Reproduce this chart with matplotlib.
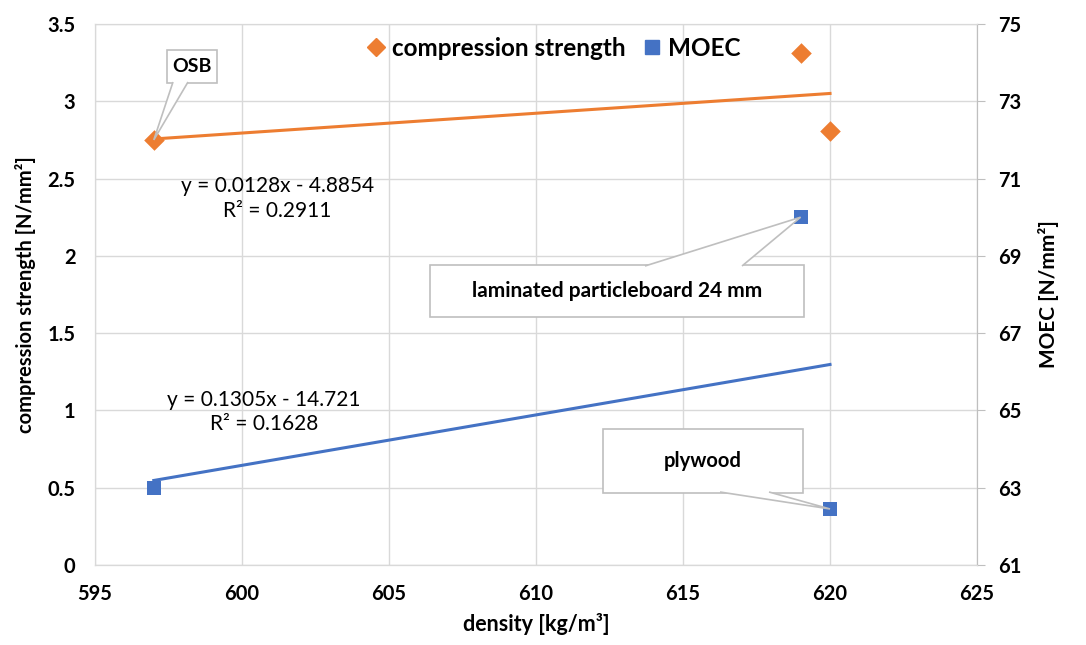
import numpy as np
import matplotlib
matplotlib.use('Agg')
import matplotlib.pyplot as plt
from matplotlib.patches import Rectangle, Polygon
from matplotlib.lines import Line2D

plt.rcParams['font.family'] = ['Lato', 'DejaVu Sans']

# data
density = [597, 619, 620]
compression = [2.75, 3.31, 2.81]
moec = [63.0, 70.0, 62.45]

# trend lines as printed on the chart
cs_slope, cs_icpt, cs_r2 = 0.0128, -4.8854, 0.2911
mo_slope, mo_icpt, mo_r2 = 0.1305, -14.721, 0.1628

x_ticks = [595, 600, 605, 610, 615, 620, 625]
cs_ticks = [0, 0.5, 1, 1.5, 2, 2.5, 3, 3.5]
mo_ticks = [61, 63, 65, 67, 69, 71, 73, 75]

ORANGE = '#ED7D31'
BLUE = '#4472C4'
GRID = '#d9d9d9'
EDGE = '#bfbfbf'

fig = plt.figure(figsize=(10.86, 6.45), dpi=100)
W, H = 1086, 645
L, R, T, B = 95, 977, 24, 565
ax = fig.add_axes([L / W, 1 - B / H, (R - L) / W, (B - T) / H])
ax2 = ax.twinx()

ax.set_xlim(595, 625)
ax.set_ylim(0, 3.5)
ax2.set_ylim(61, 75)
ax.set_xticks(x_ticks)
ax.set_yticks(cs_ticks)
ax.set_yticklabels(['0', '0.5', '1', '1.5', '2', '2.5', '3', '3.5'])
ax2.set_yticks(mo_ticks)

ax.grid(True, color=GRID, lw=1)
ax.set_axisbelow(True)
for a in (ax, ax2):
    for s in a.spines.values():
        s.set_color(GRID)
ax2.spines['right'].set_color(EDGE)
ax.spines['bottom'].set_color(EDGE)

ax.tick_params(axis='x', length=0, pad=14, labelsize=14.5)
ax.tick_params(axis='y', length=0, pad=14, labelsize=14.5)
ax2.tick_params(axis='y', length=6, color=EDGE, pad=9, labelsize=14.5)
for lab in ax.get_xticklabels() + ax.get_yticklabels() + ax2.get_yticklabels():
    lab.set_fontweight('bold')

ax.set_xlabel('density [kg/m³]', fontsize=15.5, fontweight='bold', labelpad=6)
ax.set_ylabel('compression strength [N/mm²]', fontsize=14.5, fontweight='bold', labelpad=8)
ax2.set_ylabel('MOEC [N/mm²]', fontsize=15, fontweight='bold', labelpad=12)

# trend lines over the data range
xd = np.array([min(density), max(density)])
ax.plot(xd, cs_slope * xd + cs_icpt, color=ORANGE, lw=2.2, zorder=3)
ax2.plot(xd, mo_slope * xd + mo_icpt, color=BLUE, lw=2.2, zorder=3)

ax.scatter(density, compression, marker='D', s=110, color=ORANGE, zorder=5, linewidths=0)
ax2.scatter(density, moec, marker='s', s=100, color=BLUE, zorder=5, linewidths=0)

ax.text(601.2, 2.37, f'y = {cs_slope}x - {abs(cs_icpt)}\nR² = {cs_r2}',
        ha='center', va='center', ma='center', fontsize=15, linespacing=1.3)
ax.text(600.75, 0.99, f'y = {mo_slope}x - {abs(mo_icpt)}\nR² = {mo_r2}',
        ha='center', va='center', ma='center', fontsize=15, linespacing=1.3)


def callout(a, x, y, text, box, base, size):
    x0, y0, x1, y1 = box
    a.add_patch(Rectangle((x0, y0), x1 - x0, y1 - y0, transform=a.transAxes,
                          facecolor='white', edgecolor=EDGE, lw=1.2, zorder=6))
    tip = a.transAxes.inverted().transform(a.transData.transform((x, y)))
    bx0, bx1, by = base
    a.add_patch(Polygon([(bx0, by), tip, (bx1, by)], closed=False, transform=a.transAxes,
                        facecolor='white', edgecolor=EDGE, lw=1.2, zorder=7))
    a.text((x0 + x1) / 2, (y0 + y1) / 2, text, transform=a.transAxes, ha='center',
           va='center', fontsize=size, fontweight='bold', zorder=8)


def fx(px):
    return (px - L) / (R - L)


def fy(py):
    return (B - py) / (B - T)


callout(ax, density[0], compression[0], 'OSB',
        (fx(167), fy(83), fx(217), fy(50)), (fx(173), fx(188), fy(82)), 14)
callout(ax2, density[1], moec[1], 'laminated particleboard 24 mm',
        (fx(430), fy(317), fx(804), fy(265)), (fx(645), fx(742), fy(266)), 15)
callout(ax2, density[2], moec[2], 'plywood',
        (fx(603), fy(493), fx(803), fy(429)), (fx(720), fx(769), fy(492)), 14.5)

handles = [Line2D([], [], marker='D', ls='none', color=ORANGE, markersize=9.5, label='compression strength'),
           Line2D([], [], marker='s', ls='none', color=BLUE, markersize=9.5, label='MOEC')]
ax2.legend(handles=handles, loc='upper center', bbox_to_anchor=(0.518, 1.017), ncol=2,
           frameon=False, prop={'weight': 'bold', 'size': 17.5}, handletextpad=0.15,
           columnspacing=0.6, handlelength=1.0)

fig.savefig('out.png', dpi=100)
